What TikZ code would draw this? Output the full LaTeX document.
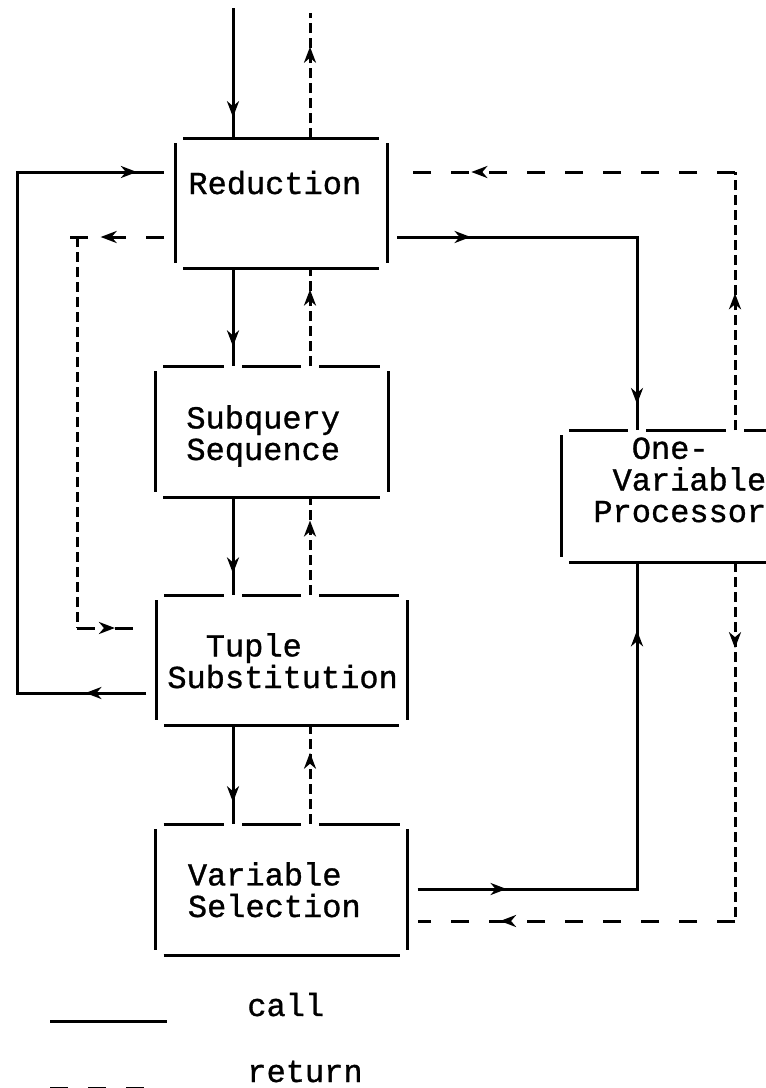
\documentclass[tikz,border=0pt]{standalone}
\usepackage{fontspec}
\newfontfamily\typewr[FakeBold=1]{Liberation Mono}
\usetikzlibrary{arrows.meta,positioning,calc,decorations.markings}

\begin{document}
\begin{tikzpicture}[x=0.5pt,y=-0.5pt,>={Stealth[length=8pt,width=6pt,inset=2.5pt]},
box/.style={rectangle,inner sep=0pt,outer sep=0pt},
edge/.style={line width=1.5pt},
lbl/.style={inner sep=0pt,align=left,font=\typewr\fontsize{16}{15.8}\selectfont},
gap/.style={rectangle,fill=white,inner sep=0pt,minimum width=9pt,minimum height=4pt},
call/.style={line width=1.5pt},
ret/.style={line width=1.5pt,dash pattern=on 9pt off 10pt},
retv/.style={line width=1.5pt,dash pattern=on 5pt off 2.5pt},
midtip/.style={postaction={decorate,decoration={markings,mark=at position #1 with {\arrow{>}}}}},
]
\useasboundingbox (0,0) rectangle (766,1088);

% boxes
\node [box, minimum width=106pt, minimum height=65pt] (Red) at (281,203) {};
\node [box, minimum width=116.5pt, minimum height=65.5pt] (Sub) [below=49pt of Red, xshift=-4.75pt] {};
\node [box, minimum width=125.5pt, minimum height=65pt] (Tup) [below=49pt of Sub, xshift=5pt] {};
\node [box, minimum width=126pt, minimum height=65.5pt] (Var) [below=49.5pt of Tup] {};
\node [box, minimum width=124.5pt, minimum height=66pt] (One) at (685.5,496) {};

\foreach \b in {Red, Sub, Tup, Var, One}
{
\draw [edge] ([yshift=-2.5pt]\b.north west) -- ([yshift=2.5pt]\b.south west);
\draw [edge] ([yshift=-2.5pt]\b.north east) -- ([yshift=2.5pt]\b.south east);
\draw [edge] ([xshift=4pt]\b.north west) -- ([xshift=-4pt]\b.north east);
\draw [edge] ([xshift=4pt]\b.south west) -- ([xshift=-4pt]\b.south east);
}

% columns and rows of the connectors
\coordinate (c0) at (17,0);
\coordinate (c1) at (233,0);
\coordinate (c2) at (310,0);
\coordinate (c3) at (637,0);
\coordinate (c4) at (735,0);
\coordinate (c5) at (77,0);
\coordinate (r1) at (0,172);
\coordinate (r2) at (0,237);
\coordinate (r3) at (0,628);
\coordinate (r4) at (0,693);
\coordinate (r5) at (0,889);
\coordinate (r6) at (0,921);

\node [gap] (G1) at (Sub.north -| c1) {};
\node [gap] (G2) at (Sub.north -| c2) {};
\node [gap] (G3) at (Tup.north -| c1) {};
\node [gap] (G4) at (Tup.north -| c2) {};
\node [gap] (G5) at (Var.north -| c1) {};
\node [gap] (G6) at (Var.north -| c2) {};
\node [gap] (G7) at (One.north -| c3) {};
\node [gap] (G8) at (One.north -| c4) {};

% labels (base = last line)
\node [lbl, anchor=base west] (RedT) at ($(Red.north west)+(13,56)$) {Reduction};
\node [lbl, anchor=base west] (SubT) at ($(Sub.north west)+(31,94)$) {Subquery\\Sequence};
\node [lbl, anchor=base west] (TupT) at ($(Tup.north west)+(11,93)$) {\phantom{xx}Tuple\\Substitution};
\node [lbl, anchor=base west] (VarT) at ($(Var.north west)+(32,93)$) {Variable\\Selection};
\node [lbl, anchor=base west] (OneT) at ($(One.north west)+(32,92)$) {\phantom{xx}One-\\\phantom{x}Variable\\Processor};

% calls and returns down the stack
\coordinate (in) at (233,8);
\coordinate (out) at (310,13);
\draw [call, midtip=0.84] (in) -- (Red.north -| c1);
\draw [retv, midtip=0.73] (Red.north -| c2) -- (out);

\draw [call, midtip=0.8] (Red.south -| c1) -- (Sub.north -| c1);
\draw [retv, midtip=0.78] (Sub.north -| c2) -- (Red.south -| c2);
\draw [call, midtip=0.78] (Sub.south -| c1) -- (Tup.north -| c1);
\draw [retv, midtip=0.76] (Tup.north -| c2) -- (Sub.south -| c2);
\draw [call, midtip=0.78] (Tup.south -| c1) -- (Var.north -| c1);
\draw [retv, midtip=0.72] (Var.north -| c2) -- (Tup.south -| c2);

% loop on the left
\draw [call, midtip=0.076, midtip=0.966] ($(Tup.west |- r4)+(-10,0)$) -| (c0 |- r1) -- ($(Red.west |- r1)+(-11,0)$);

\coordinate (k1) at (c5 |- r2);
\coordinate (k2) at (c5 |- r3);
\draw [ret, midtip=0.66] ($(Red.west |- r2)+(-11,0)$) -- ([xshift=-4.5pt]k1);
\draw [retv] (k1) -- (k2);
\draw [ret, midtip=0.55] (k2) -- ($(Tup.west |- r3)+(-10,0)$);

% one-variable processor
\draw [call, midtip=0.17, midtip=0.94] ($(Red.east |- r2)+(10,0)$) -| (One.north -| c3);
\coordinate (k3) at (c4 |- r1);
\draw [retv, midtip=0.53] (One.north -| c4) -- (k3);
\draw [ret, midtip=0.78] (k3) -- ($(Red.east |- r1)+(10,0)$);

\draw [call, midtip=0.163, midtip=0.875] ($(Var.east |- r5)+(10,0)$) -| (One.south -| c3);
\coordinate (k4) at (c4 |- r6);
\draw [retv, midtip=0.24] (One.south -| c4) -- (k4);
\draw [ret, midtip=0.74] (k4) -- ($(Var.east |- r6)+(10,0)$);

% legend
\coordinate (L1) at (50,1021);
\coordinate (L2) at (167,1021);
\coordinate (L3) at (50,1088);
\coordinate (L4) at (150,1088);
\draw [call] (L1) -- (L2);
\draw [ret] (L3) -- (L4);
\node [lbl, anchor=base west] (CallT) at (247,1016) {call};
\node [lbl, anchor=base west] (RetT) at (247,1082) {return};

\end{tikzpicture}
\end{document}
